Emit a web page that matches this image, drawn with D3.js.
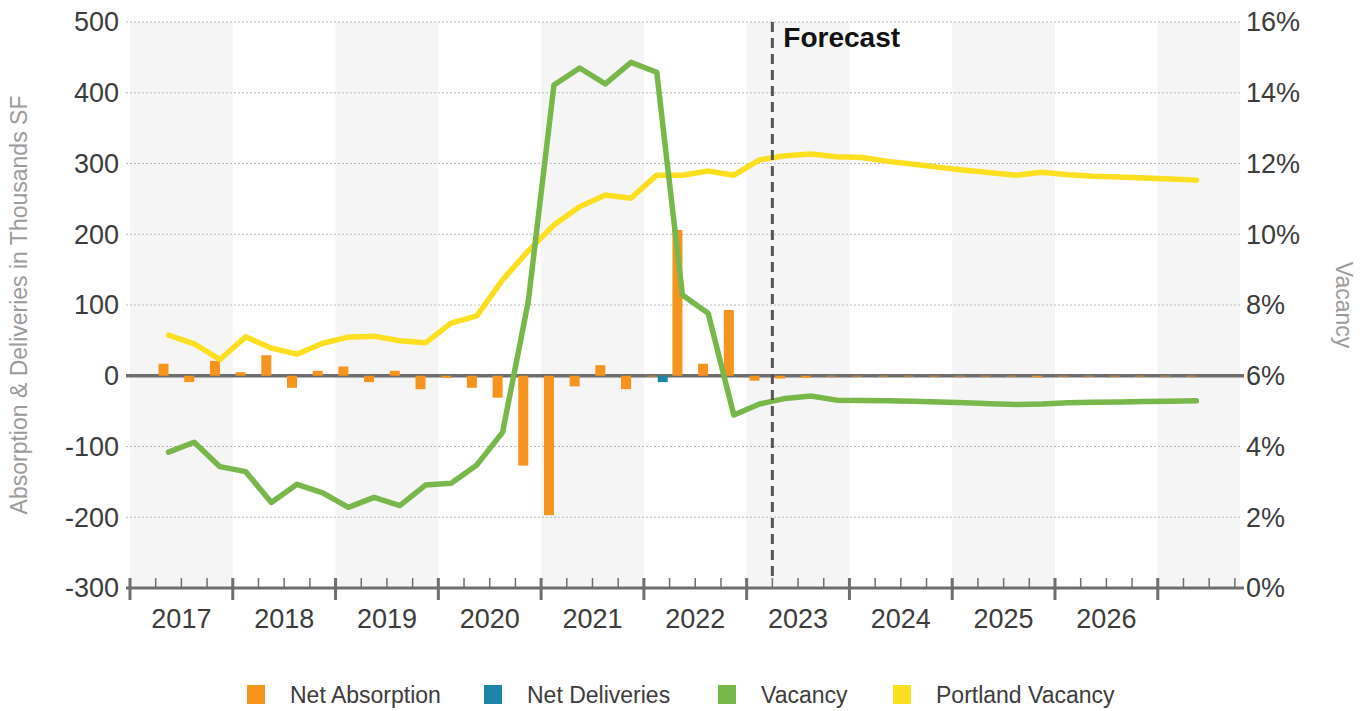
<!DOCTYPE html>
<html>
<head>
<meta charset="utf-8">
<script src="https://cdn.jsdelivr.net/npm/d3@7"></script>
<style>
  html, body { margin: 0; padding: 0; background: #fff; }
  svg { display: block; font-family: Arial, "Liberation Sans", sans-serif; }
</style>
</head>
<body>
<svg id="chart" width="1369" height="711"></svg>
<script>
// Quarterly series, 2017 Q2 through 2027 Q2
const quarters = [
  "2017 Q2","2017 Q3","2017 Q4","2018 Q1","2018 Q2","2018 Q3","2018 Q4",
  "2019 Q1","2019 Q2","2019 Q3","2019 Q4","2020 Q1","2020 Q2","2020 Q3","2020 Q4",
  "2021 Q1","2021 Q2","2021 Q3","2021 Q4","2022 Q1","2022 Q2","2022 Q3","2022 Q4",
  "2023 Q1","2023 Q2","2023 Q3","2023 Q4","2024 Q1","2024 Q2","2024 Q3","2024 Q4",
  "2025 Q1","2025 Q2","2025 Q3","2025 Q4","2026 Q1","2026 Q2","2026 Q3","2026 Q4",
  "2027 Q1","2027 Q2"
];

// Thousands SF
const netAbsorption = [
  17, -9, 21, 5, 29, -17, 7, 13, -9, 7, -19, -3, -17, -31, -127,
  -197, -15, 15, -19, -1, 206, 17, 93, -7, -4, -3, -1, -1, -1, -1, -1,
  -1, -1, -1, -2, -1, -1, -1, -1, -1, -1
];
const netDeliveries = [
  0, 0, 0, 0, 0, 0, 0, 0, 0, 0, 0, 0, 0, 0, 0,
  0, 0, 0, 0, -9, 0, 0, 0, 0, 0, 0, 0, 0, 0, 0, 0,
  0, 0, 0, 0, 0, 0, 0, 0, 0, 0
];

// Percent
const vacancy = [
  3.84, 4.12, 3.43, 3.29, 2.42, 2.93, 2.69, 2.28, 2.56, 2.33, 2.91, 2.96, 3.48, 4.40, 8.10,
  14.22, 14.70, 14.25, 14.86, 14.58, 8.28, 7.77, 4.89, 5.20, 5.36, 5.43, 5.31, 5.30, 5.29, 5.28, 5.26,
  5.24, 5.21, 5.19, 5.20, 5.24, 5.25, 5.26, 5.27, 5.28, 5.29
];
const portlandVacancy = [
  7.15, 6.90, 6.46, 7.10, 6.78, 6.61, 6.92, 7.09, 7.12, 6.99, 6.93, 7.49, 7.69, 8.71, 9.53,
  10.26, 10.78, 11.11, 11.02, 11.67, 11.67, 11.79, 11.67, 12.10, 12.22, 12.27, 12.19, 12.17, 12.06, 11.98, 11.89,
  11.81, 11.74, 11.67, 11.75, 11.68, 11.64, 11.62, 11.59, 11.56, 11.53
];

const yearLabels = ["2017","2018","2019","2020","2021","2022","2023","2024","2025","2026"];
const leftTicks = [500, 400, 300, 200, 100, 0, -100, -200, -300];
const rightTicks = [16, 14, 12, 10, 8, 6, 4, 2, 0];
const forecastStart = "2023 Q2";

const seriesNames = ["Net Absorption", "Net Deliveries", "Vacancy", "Portland Vacancy"];
const seriesColors = ["#f7941d", "#1d86a7", "#78b74a", "#fcdf21"];

// ---- layout ----
const L = 130, R = 1240, T = 22, B = 588;
const svg = d3.select("#chart");

// quarter label -> decimal year at the middle / start of the quarter
const qMid = q => { const [y, n] = q.split(" Q"); return +y + (+n - 0.5) / 4; };
const qStart = q => { const [y, n] = q.split(" Q"); return +y + (+n - 1) / 4; };

const x = d3.scaleLinear().domain([2017, 2027.8]).range([L, R]);
const yL = d3.scaleLinear().domain([-300, 500]).range([B, T]);
const yR = d3.scaleLinear().domain([0, 16]).range([B, T]);

// alternating year bands
const bandYears = d3.range(2017, 2028, 2);
svg.append("g").selectAll("rect").data(bandYears).join("rect")
  .attr("x", d => x(d))
  .attr("width", d => Math.min(x(d + 1), R) - x(d))
  .attr("y", T).attr("height", B - T)
  .attr("fill", "#f5f5f5");

// dotted gridlines
svg.append("g").selectAll("line").data(leftTicks.filter(v => v !== 0 && v !== -300)).join("line")
  .attr("x1", 126).attr("x2", R)
  .attr("y1", d => yL(d)).attr("y2", d => yL(d))
  .attr("stroke", "#b9b9b9").attr("stroke-width", 1.2)
  .attr("stroke-dasharray", "2,2");

// left axis labels
svg.append("g").selectAll("text").data(leftTicks).join("text")
  .attr("x", 119).attr("y", d => yL(d))
  .attr("dy", "0.35em")
  .attr("text-anchor", "end")
  .attr("font-size", 27).attr("fill", "#3c3c3c")
  .text(d => d);

// right axis labels
svg.append("g").selectAll("text").data(rightTicks).join("text")
  .attr("x", 1246).attr("y", d => yR(d))
  .attr("dy", "0.35em")
  .attr("text-anchor", "start")
  .attr("font-size", 27).attr("fill", "#3c3c3c")
  .text(d => d + "%");

// axis titles
svg.append("text")
  .attr("transform", `translate(27,${(T + B) / 2}) rotate(-90)`)
  .attr("text-anchor", "middle")
  .attr("font-size", 23).attr("fill", "#9b9b9b")
  .text("Absorption & Deliveries in Thousands SF");
svg.append("text")
  .attr("transform", `translate(1336,${(T + B) / 2}) rotate(90)`)
  .attr("text-anchor", "middle")
  .attr("font-size", 23).attr("fill", "#9b9b9b")
  .text("Vacancy");

// zero line
svg.append("line")
  .attr("x1", 126).attr("x2", R + 4)
  .attr("y1", yL(0)).attr("y2", yL(0))
  .attr("stroke", "#6e6e6e").attr("stroke-width", 3.5);

// x axis with quarter and year ticks
const gx = svg.append("g");
gx.append("line")
  .attr("x1", 126).attr("x2", R + 4)
  .attr("y1", B).attr("y2", B)
  .attr("stroke", "#6e6e6e").attr("stroke-width", 3);
const qTicks = d3.range(0, 44).map(i => 2017 + i / 4).filter(v => v <= 2027.8 && v % 1 !== 0);
gx.selectAll("line.minor").data(qTicks).join("line").attr("class", "minor")
  .attr("x1", d => x(d)).attr("x2", d => x(d))
  .attr("y1", B - 10).attr("y2", B)
  .attr("stroke", "#6e6e6e").attr("stroke-width", 1.5);
const yTicks = d3.range(2017, 2028);
gx.selectAll("line.major").data(yTicks).join("line").attr("class", "major")
  .attr("x1", d => x(d)).attr("x2", d => x(d))
  .attr("y1", B - 10).attr("y2", B + 12)
  .attr("stroke", "#6e6e6e").attr("stroke-width", 3);
gx.selectAll("text").data(yearLabels).join("text")
  .attr("x", d => x(+d + 0.5)).attr("y", 628)
  .attr("text-anchor", "middle")
  .attr("font-size", 27).attr("fill", "#3c3c3c")
  .text(d => d);

// bars: absorption left of each quarter point, deliveries right
const bw = 10;
svg.append("g").selectAll("rect").data(quarters).join("rect")
  .attr("x", (q) => x(qMid(q)) - bw)
  .attr("width", bw)
  .attr("y", (q, i) => yL(Math.max(0, netAbsorption[i])))
  .attr("height", (q, i) => Math.abs(yL(netAbsorption[i]) - yL(0)))
  .attr("fill", seriesColors[0]);
svg.append("g").selectAll("rect").data(quarters).join("rect")
  .attr("x", (q) => x(qMid(q)) + 1)
  .attr("width", bw)
  .attr("y", (q, i) => yL(Math.max(0, netDeliveries[i])))
  .attr("height", (q, i) => Math.abs(yL(netDeliveries[i]) - yL(0)))
  .attr("fill", seriesColors[1]);

// vacancy lines
const line = d3.line()
  .x((d, i) => x(qMid(quarters[i])))
  .y(d => yR(d))
  .curve(d3.curveLinear);
svg.append("path").datum(portlandVacancy)
  .attr("d", line).attr("fill", "none")
  .attr("stroke", seriesColors[3]).attr("stroke-width", 5.5)
  .attr("stroke-linejoin", "round").attr("stroke-linecap", "round");
svg.append("path").datum(vacancy)
  .attr("d", line).attr("fill", "none")
  .attr("stroke", seriesColors[2]).attr("stroke-width", 5.5)
  .attr("stroke-linejoin", "round").attr("stroke-linecap", "round");

// forecast divider
const fx = x(qStart(forecastStart));
svg.append("line")
  .attr("x1", fx).attr("x2", fx)
  .attr("y1", T).attr("y2", B - 6)
  .attr("stroke", "#555").attr("stroke-width", 3)
  .attr("stroke-dasharray", "10,6");
svg.append("text")
  .attr("x", fx + 11).attr("y", 47)
  .attr("font-size", 28).attr("font-weight", "bold").attr("fill", "#111")
  .text("Forecast");

// legend
const legendX = [247, 484, 718, 893];
const lg = svg.append("g").selectAll("g").data(seriesNames).join("g")
  .attr("transform", (d, i) => `translate(${legendX[i]},685)`);
lg.append("rect").attr("width", 18).attr("height", 19)
  .attr("fill", (d, i) => seriesColors[i]);
lg.append("text").attr("x", 43).attr("y", 9.5).attr("dy", "0.35em")
  .attr("font-size", 23).attr("fill", "#3c3c3c")
  .text(d => d);
</script>
</body>
</html>
